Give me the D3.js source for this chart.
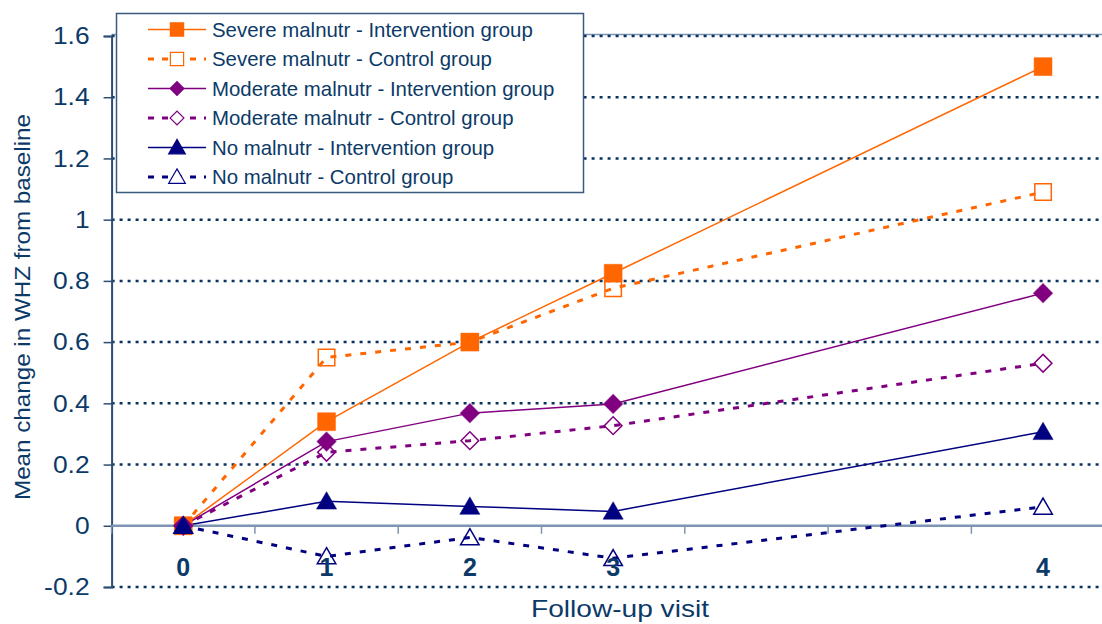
<!DOCTYPE html>
<html>
<head>
<meta charset="utf-8">
<script src="https://cdn.jsdelivr.net/npm/d3@7"></script>
<style>
  html, body { margin: 0; padding: 0; background: #fff; }
  svg { display: block; font-family: Arial, "Liberation Sans", sans-serif; }
</style>
</head>
<body>
<svg id="chart" width="1102" height="624"></svg>
<script>
// Follow-up visits: seven slots on the category axis, visit 4 sits in the last one
const slots = ["0", "1", "2", "3", "s4", "s5", "4"];
const slotLabels = { "0": "0", "1": "1", "2": "2", "3": "3", "4": "4" };
const visits = ["0", "1", "2", "3", "4"];
const yTicks = [-0.2, 0, 0.2, 0.4, 0.6, 0.8, 1, 1.2, 1.4, 1.6];

// Mean change in WHZ from baseline, one value per visit
const severeIntervention   = [0, 0.34, 0.60, 0.825, 1.50];
const severeControl        = [0, 0.55, 0.60, 0.776, 1.09];
const moderateIntervention = [0, 0.275, 0.368, 0.398, 0.76];
const moderateControl      = [0, 0.24, 0.278, 0.327, 0.531];
const noIntervention       = [0, 0.08, 0.063, 0.047, 0.307];
const noControl            = [0, -0.10, -0.038, -0.106, 0.062];

const seriesNames = [
  "Severe malnutr - Intervention group",
  "Severe malnutr - Control group",
  "Moderate malnutr - Intervention group",
  "Moderate malnutr - Control group",
  "No malnutr - Intervention group",
  "No malnutr - Control group"
];

const series = [
  { name: seriesNames[0], values: severeIntervention,   color: "#ff6600", dashed: false, shape: "square",   filled: true },
  { name: seriesNames[1], values: severeControl,        color: "#ff6600", dashed: true,  shape: "square",   filled: false },
  { name: seriesNames[2], values: moderateIntervention, color: "#800080", dashed: false, shape: "diamond",  filled: true },
  { name: seriesNames[3], values: moderateControl,      color: "#800080", dashed: true,  shape: "diamond",  filled: false },
  { name: seriesNames[4], values: noIntervention,       color: "#000080", dashed: false, shape: "triangle", filled: true },
  { name: seriesNames[5], values: noControl,            color: "#000080", dashed: true,  shape: "triangle", filled: false }
];

const textColor = "#0c3a68";
const gridColor = "#0b3360";
const axisColor = "#7d95b3";

const svg = d3.select("#chart");
const plot = { left: 111.6, right: 1114.7, top: 36, bottom: 587 };

const x = d3.scaleBand().domain(slots).range([plot.left, plot.right]).padding(0);
const xc = v => x(v) + x.bandwidth() / 2;
const y = d3.scaleLinear().domain([-0.2, 1.6]).range([plot.bottom, plot.top]);

// Plot frame top edge
svg.append("line")
  .attr("x1", plot.left).attr("x2", plot.right)
  .attr("y1", y(1.6) - 1.5).attr("y2", y(1.6) - 1.5)
  .attr("stroke", axisColor).attr("stroke-width", 1.5);

// Dotted horizontal gridlines
svg.append("g").selectAll("line")
  .data(yTicks.filter(t => t !== 0))
  .join("line")
  .attr("x1", plot.left).attr("x2", plot.right)
  .attr("y1", d => y(d)).attr("y2", d => y(d))
  .attr("stroke", gridColor).attr("stroke-width", 2.5)
  .attr("stroke-dasharray", "3,5");

// Y axis with its labels
const yAxis = d3.axisLeft(y).tickValues(yTicks).tickSize(8).tickPadding(14)
  .tickFormat(d => String(+d.toFixed(1)));
const gy = svg.append("g").attr("transform", `translate(${plot.left},0)`).call(yAxis);
gy.select(".domain").attr("stroke", "#2d4d74").attr("stroke-width", 2);
gy.selectAll(".tick line").attr("stroke", "#2d4d74").attr("stroke-width", 1.5);
gy.selectAll(".tick text").attr("fill", textColor).attr("font-size", 24)
  .attr("font-family", "Arial, 'Liberation Sans', sans-serif")
  .attr("transform", "scale(1.1,1)")
  .attr("x", -22 / 1.1);

// Zero line with category boundary ticks
svg.append("line")
  .attr("x1", plot.left).attr("x2", plot.right)
  .attr("y1", y(0)).attr("y2", y(0))
  .attr("stroke", axisColor).attr("stroke-width", 2.5);
svg.append("g").selectAll("line")
  .data(slots)
  .join("line")
  .attr("x1", d => x(d)).attr("x2", d => x(d))
  .attr("y1", y(0)).attr("y2", y(0) + 8)
  .attr("stroke", axisColor).attr("stroke-width", 1.5);

// Marker symbols; the diamond is a square turned by 45 degrees
const symbolFor = s => s === "triangle" ? d3.symbolTriangle : d3.symbolSquare;
const rotFor = s => s === "diamond" ? " rotate(45)" : "";
const sizeFor = s => s === "square" ? 320 : s === "diamond" ? 185 : 175;

const line = d3.line().x((d, i) => xc(visits[i])).y(d => y(d));

const gs = svg.append("g");
series.forEach(s => {
  gs.append("path")
    .datum(s.values)
    .attr("d", line)
    .attr("fill", "none")
    .attr("stroke", s.color)
    .attr("stroke-width", s.dashed ? 3 : 1.5)
    .attr("stroke-dasharray", s.dashed ? "6,9" : null);
});
// Open markers are hollow outlines, lines show through them
series.forEach(s => {
  gs.append("g").selectAll("path")
    .data(s.values)
    .join("path")
    .attr("transform", (d, i) => `translate(${xc(visits[i])},${y(d) + (s.shape === "triangle" ? 2 : 0)})${rotFor(s.shape)}`)
    .attr("d", d3.symbol().type(symbolFor(s.shape)).size(s.filled ? sizeFor(s.shape) : sizeFor(s.shape) * 0.85))
    .attr("fill", s.filled ? s.color : "none")
    .attr("stroke", s.color)
    .attr("stroke-opacity", s.filled ? 0.5 : 1)
    .attr("stroke-width", s.filled ? 1 : 1.5);
});

// Visit labels along the zero line
svg.append("g").selectAll("text")
  .data(slots.filter(d => slotLabels[d] !== undefined))
  .join("text")
  .attr("x", d => xc(d)).attr("y", 576)
  .attr("text-anchor", "middle")
  .attr("font-size", 25).attr("font-weight", "bold")
  .attr("fill", textColor)
  .text(d => slotLabels[d]);

// Axis titles
svg.append("text")
  .attr("x", 620).attr("y", 617)
  .attr("text-anchor", "middle")
  .attr("font-size", 24).attr("fill", textColor)
  .attr("textLength", 178).attr("lengthAdjust", "spacingAndGlyphs")
  .text("Follow-up visit");
svg.append("text")
  .attr("transform", "translate(30,307) rotate(-90)")
  .attr("text-anchor", "middle")
  .attr("font-size", 22).attr("fill", textColor)
  .attr("textLength", 386).attr("lengthAdjust", "spacingAndGlyphs")
  .text("Mean change in WHZ from baseline");

// Legend
const lg = svg.append("g");
lg.append("rect")
  .attr("x", 116.5).attr("y", 13.5).attr("width", 467).attr("height", 179)
  .attr("fill", "#fff").attr("stroke", "#3a5a80").attr("stroke-width", 1.5);
series.forEach((s, i) => {
  const cy = 29.5 + i * 29.5;
  lg.append("line")
    .attr("x1", 148).attr("x2", 206).attr("y1", cy).attr("y2", cy)
    .attr("stroke", s.color).attr("stroke-width", s.dashed ? 3 : 1.5)
    .attr("stroke-dasharray", s.dashed ? "6,8" : null);
  lg.append("path")
    .attr("transform", `translate(177,${cy + (s.shape === "triangle" ? 1.5 : 0)})${rotFor(s.shape)}`)
    .attr("d", d3.symbol().type(symbolFor(s.shape)).size(s.shape === "square" ? 175 : s.shape === "diamond" ? 95 : 120))
    .attr("fill", s.filled ? s.color : "#fff")
    .attr("stroke", s.color).attr("stroke-width", 1.2);
  lg.append("text")
    .attr("x", 212).attr("y", cy + 7)
    .attr("font-size", 20.4).attr("fill", textColor)
    .text(s.name);
});
</script>
</body>
</html>
